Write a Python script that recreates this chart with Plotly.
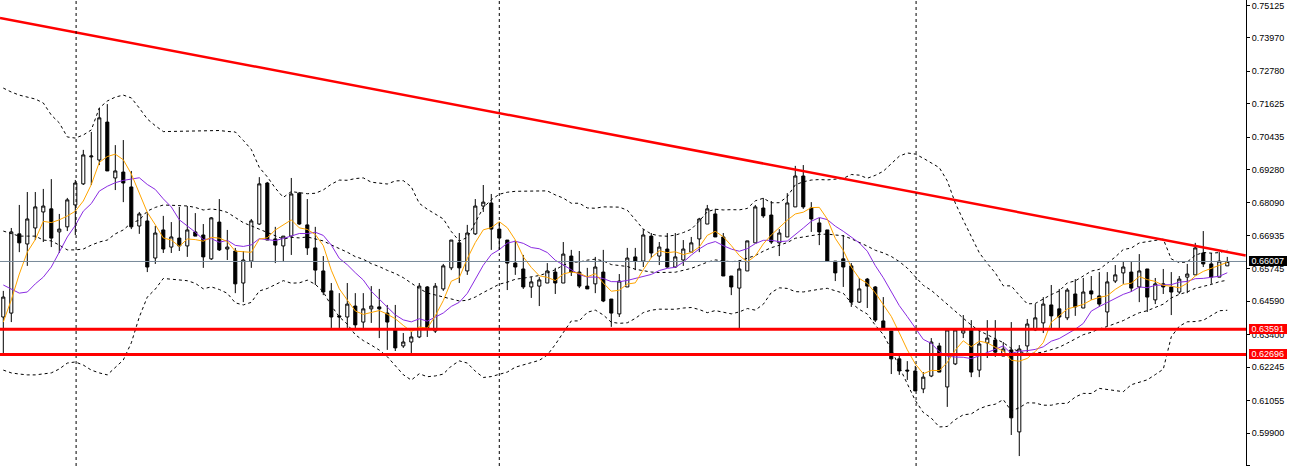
"""Weekly candles with Bollinger bands, two SMAs, a falling trend line and two support levels."""
import pandas as pd
import plotly.graph_objects as go

# ── weekly bars, oldest first (x = bar number) ────────────────────────────────
opens = [
    0.6403, 0.6417, 0.6699, 0.6663, 0.6720, 0.6777, 0.6788, 0.6706, 0.6724, 0.6802,
    0.6877, 0.6973, 0.6962, 0.7097, 0.6898, 0.6919, 0.6866, 0.6727, 0.6745, 0.6613,
    0.6713, 0.6652, 0.6684, 0.6656, 0.6706, 0.6695, 0.6610, 0.6741, 0.6645, 0.6638,
    0.6524, 0.6602, 0.6734, 0.6880, 0.6681, 0.6656, 0.6691, 0.6844, 0.6731, 0.6649,
    0.6567, 0.6496, 0.6407, 0.6403, 0.6442, 0.6385, 0.6432, 0.6439, 0.6417, 0.6360,
    0.6300, 0.6314, 0.6332, 0.6510, 0.6353, 0.6503, 0.6578, 0.6667, 0.6567, 0.6699,
    0.6798, 0.6809, 0.6716, 0.6677, 0.6595, 0.6574, 0.6510, 0.6513, 0.6524, 0.6563,
    0.6524, 0.6620, 0.6563, 0.6513, 0.6521, 0.6563, 0.6467, 0.6414, 0.6510, 0.6617,
    0.6602, 0.6691, 0.6620, 0.6645, 0.6581, 0.6606, 0.6634, 0.6681, 0.6734, 0.6770,
    0.6688, 0.6549, 0.6506, 0.6567, 0.6667, 0.6791, 0.6766, 0.6667, 0.6688, 0.6795,
    0.6905, 0.6791, 0.6738, 0.6713, 0.6602, 0.6610, 0.6585, 0.6456, 0.6538, 0.6510,
    0.6389, 0.6353, 0.6254, 0.6214, 0.6211, 0.6147, 0.6193, 0.6300, 0.6154, 0.6236,
    0.6346, 0.6360, 0.6214, 0.6311, 0.6321, 0.6264, 0.6286, 0.5994, 0.6300, 0.6357,
    0.6382, 0.6446, 0.6432, 0.6400, 0.6485, 0.6435, 0.6496, 0.6478, 0.6421, 0.6531,
    0.6560, 0.6563, 0.6510, 0.6574, 0.6464, 0.6521, 0.6510, 0.6492, 0.6545, 0.6553,
    0.6631, 0.6592, 0.6545, 0.6585,
]
highs = [
    0.6496, 0.6720, 0.6802, 0.6848, 0.6848, 0.6859, 0.6894, 0.6770, 0.6827, 0.6891,
    0.6998, 0.7062, 0.7147, 0.7161, 0.7015, 0.7033, 0.6923, 0.6777, 0.6777, 0.6727,
    0.6763, 0.6741, 0.6795, 0.6798, 0.6773, 0.6734, 0.6759, 0.6823, 0.6713, 0.6649,
    0.6638, 0.6752, 0.6901, 0.6884, 0.6724, 0.6691, 0.6898, 0.6848, 0.6823, 0.6724,
    0.6620, 0.6524, 0.6488, 0.6524, 0.6488, 0.6488, 0.6513, 0.6503, 0.6446, 0.6446,
    0.6346, 0.6350, 0.6524, 0.6513, 0.6524, 0.6592, 0.6677, 0.6702, 0.6731, 0.6823,
    0.6873, 0.6841, 0.6741, 0.6677, 0.6677, 0.6624, 0.6545, 0.6545, 0.6595, 0.6578,
    0.6670, 0.6642, 0.6638, 0.6578, 0.6617, 0.6642, 0.6467, 0.6556, 0.6649, 0.6649,
    0.6716, 0.6702, 0.6670, 0.6702, 0.6702, 0.6677, 0.6688, 0.6756, 0.6802, 0.6788,
    0.6702, 0.6549, 0.6606, 0.6674, 0.6802, 0.6827, 0.6816, 0.6716, 0.6844, 0.6941,
    0.6944, 0.6812, 0.6756, 0.6713, 0.6602, 0.6695, 0.6595, 0.6542, 0.6542, 0.6513,
    0.6474, 0.6353, 0.6264, 0.6246, 0.6229, 0.6207, 0.6328, 0.6311, 0.6357, 0.6357,
    0.6410, 0.6392, 0.6357, 0.6392, 0.6392, 0.6314, 0.6385, 0.6303, 0.6396, 0.6449,
    0.6474, 0.6517, 0.6503, 0.6506, 0.6538, 0.6542, 0.6549, 0.6563, 0.6563, 0.6588,
    0.6599, 0.6599, 0.6627, 0.6574, 0.6542, 0.6574, 0.6563, 0.6549, 0.6592, 0.6667,
    0.6709, 0.6631, 0.6634, 0.6617,
]
lows = [
    0.6275, 0.6385, 0.6634, 0.6585, 0.6677, 0.6670, 0.6652, 0.6631, 0.6709, 0.6695,
    0.6873, 0.6873, 0.6944, 0.6923, 0.6855, 0.6812, 0.6716, 0.6699, 0.6563, 0.6592,
    0.6631, 0.6631, 0.6638, 0.6617, 0.6691, 0.6578, 0.6606, 0.6638, 0.6606, 0.6488,
    0.6456, 0.6578, 0.6731, 0.6677, 0.6595, 0.6599, 0.6624, 0.6731, 0.6624, 0.6517,
    0.6481, 0.6364, 0.6364, 0.6364, 0.6364, 0.6364, 0.6382, 0.6328, 0.6286, 0.6282,
    0.6293, 0.6275, 0.6328, 0.6332, 0.6346, 0.6496, 0.6570, 0.6524, 0.6553, 0.6695,
    0.6777, 0.6642, 0.6642, 0.6499, 0.6553, 0.6503, 0.6471, 0.6442, 0.6524, 0.6485,
    0.6524, 0.6549, 0.6506, 0.6503, 0.6488, 0.6456, 0.6368, 0.6403, 0.6510, 0.6570,
    0.6581, 0.6613, 0.6588, 0.6578, 0.6578, 0.6585, 0.6634, 0.6634, 0.6734, 0.6688,
    0.6549, 0.6481, 0.6357, 0.6567, 0.6667, 0.6756, 0.6663, 0.6620, 0.6688, 0.6795,
    0.6788, 0.6706, 0.6659, 0.6602, 0.6531, 0.6510, 0.6439, 0.6453, 0.6435, 0.6385,
    0.6364, 0.6200, 0.6197, 0.6179, 0.6140, 0.6132, 0.6189, 0.6207, 0.6083, 0.6232,
    0.6328, 0.6189, 0.6189, 0.6257, 0.6261, 0.6264, 0.5983, 0.5908, 0.6278, 0.6353,
    0.6346, 0.6357, 0.6357, 0.6392, 0.6407, 0.6435, 0.6464, 0.6439, 0.6371, 0.6524,
    0.6521, 0.6492, 0.6456, 0.6421, 0.6449, 0.6485, 0.6410, 0.6485, 0.6488, 0.6553,
    0.6581, 0.6521, 0.6545, 0.6585,
]
closes = [
    0.6474, 0.6706, 0.6667, 0.6752, 0.6795, 0.6798, 0.6684, 0.6716, 0.6820, 0.6880,
    0.6980, 0.6976, 0.7112, 0.6923, 0.6923, 0.6880, 0.6724, 0.6770, 0.6581, 0.6702,
    0.6645, 0.6688, 0.6656, 0.6713, 0.6691, 0.6617, 0.6756, 0.6642, 0.6652, 0.6521,
    0.6606, 0.6745, 0.6877, 0.6677, 0.6659, 0.6691, 0.6841, 0.6734, 0.6649, 0.6570,
    0.6492, 0.6403, 0.6403, 0.6449, 0.6375, 0.6432, 0.6442, 0.6432, 0.6385, 0.6293,
    0.6314, 0.6332, 0.6513, 0.6364, 0.6513, 0.6585, 0.6677, 0.6578, 0.6702, 0.6798,
    0.6812, 0.6716, 0.6684, 0.6595, 0.6581, 0.6510, 0.6528, 0.6535, 0.6567, 0.6524,
    0.6627, 0.6563, 0.6513, 0.6503, 0.6581, 0.6460, 0.6417, 0.6531, 0.6613, 0.6602,
    0.6695, 0.6631, 0.6652, 0.6581, 0.6617, 0.6645, 0.6667, 0.6752, 0.6788, 0.6688,
    0.6549, 0.6510, 0.6574, 0.6674, 0.6795, 0.6763, 0.6670, 0.6702, 0.6809, 0.6905,
    0.6795, 0.6752, 0.6706, 0.6602, 0.6560, 0.6581, 0.6456, 0.6503, 0.6513, 0.6392,
    0.6364, 0.6254, 0.6211, 0.6211, 0.6140, 0.6189, 0.6314, 0.6207, 0.6357, 0.6357,
    0.6357, 0.6207, 0.6307, 0.6328, 0.6278, 0.6289, 0.6044, 0.6289, 0.6378, 0.6400,
    0.6449, 0.6407, 0.6403, 0.6499, 0.6439, 0.6492, 0.6485, 0.6449, 0.6528, 0.6553,
    0.6581, 0.6506, 0.6567, 0.6474, 0.6521, 0.6510, 0.6492, 0.6538, 0.6556, 0.6649,
    0.6592, 0.6545, 0.6602, 0.66007,
]

# indicator values on the first bars, which depend on history left of the window
sma5_head = [0.6385, 0.6464, 0.6556, 0.6634]
sma10_head = [0.6517, 0.6503, 0.6488, 0.6492, 0.6521, 0.6545, 0.6581, 0.6634, 0.6688]
bb_mid_head = [
    0.6709, 0.6699, 0.6691, 0.6691, 0.6691, 0.6677, 0.6674, 0.6659, 0.6642, 0.6642,
    0.6645, 0.6659, 0.6670, 0.6677, 0.6699, 0.6713, 0.6738, 0.6748, 0.6780,
]
bb_up_head = [
    0.7218, 0.7204, 0.7193, 0.7186, 0.7179, 0.7165, 0.7122, 0.7094, 0.7044, 0.7040,
    0.7051, 0.7069, 0.7147, 0.7172, 0.7186, 0.7193, 0.7183, 0.7147, 0.7108,
]
bb_low_head = [
    0.6214, 0.6204, 0.6200, 0.6197, 0.6197, 0.6200, 0.6204, 0.6218, 0.6239, 0.6243,
    0.6232, 0.6214, 0.6204, 0.6197, 0.6225, 0.6250, 0.6311, 0.6403, 0.6474,
]

bid_price = 0.66007
support_levels = [0.63591, 0.62696]
trend_bars = [-0.41, 155.3]
trend_prices = [0.7468, 0.6622]
year_breaks = [9.1, 62.0, 114.1]
tick_prices = [
    0.75125, 0.73970, 0.72780, 0.71625, 0.70435, 0.69280, 0.68090, 0.66935,
    0.65745, 0.64590, 0.63400, 0.62245, 0.61055, 0.59900, 0.58745,
]

# ── styling ──────────────────────────────────────────────────────────────────
_FONT = "Liberation Sans, Arial, sans-serif"
_DOT = "3px,3px"
_RED = "#ff0000"

bars = list(range(len(closes)))
close_s = pd.Series(closes)


def _with_head(series: pd.Series, head: list[float]) -> list[float]:
    out = series.tolist()
    out[: len(head)] = head
    return out


sma5 = _with_head(close_s.rolling(5).mean(), sma5_head)
sma10 = _with_head(close_s.rolling(10).mean(), sma10_head)
mid = close_s.rolling(20).mean()
sd = close_s.rolling(20).std(ddof=0)
bb_mid = _with_head(mid, bb_mid_head)
bb_up = _with_head(mid + 2 * sd, bb_up_head)
bb_low = _with_head(mid - 2 * sd, bb_low_head)

fig = go.Figure()

fig.add_trace(go.Candlestick(
    x=bars, open=opens, high=highs, low=lows, close=closes,
    increasing=dict(fillcolor="white", line=dict(color="black", width=1)),
    decreasing=dict(fillcolor="black", line=dict(color="black", width=1)),
    whiskerwidth=0,
    hoverinfo="skip",
))

for band in (bb_up, bb_mid, bb_low):
    fig.add_trace(go.Scatter(
        x=bars, y=band, mode="lines",
        line=dict(color="black", width=1, dash=_DOT),
        hoverinfo="skip",
    ))

fig.add_trace(go.Scatter(x=bars, y=sma10, mode="lines",
                         line=dict(color="#8a2be2", width=1), hoverinfo="skip"))
fig.add_trace(go.Scatter(x=bars, y=sma5, mode="lines",
                         line=dict(color="#ffa500", width=1), hoverinfo="skip"))

# year separators
for xb in year_breaks:
    fig.add_shape(type="line", xref="x", yref="paper", x0=xb, x1=xb, y0=0, y1=1,
                  line=dict(color="black", width=1, dash=_DOT))

# bid line and support levels
fig.add_shape(type="line", xref="paper", yref="y", x0=0, x1=1, y0=bid_price, y1=bid_price,
              line=dict(color="#778899", width=1))
for lvl in support_levels:
    fig.add_shape(type="line", xref="paper", yref="y", x0=0, x1=1, y0=lvl, y1=lvl,
                  line=dict(color=_RED, width=3))

# falling trend line
fig.add_trace(go.Scatter(x=trend_bars, y=trend_prices, mode="lines",
                         line=dict(color=_RED, width=2.5), hoverinfo="skip"))

# price tags on the right scale
for price, bg in [(bid_price, "black")] + [(lvl, _RED) for lvl in support_levels]:
    fig.add_annotation(
        x=1, xref="paper", y=price, yref="y",
        xanchor="left", yanchor="middle", xshift=3,
        text="\u00a0" + f"{price:.5f}" + "\u00a0",
        showarrow=False, bgcolor=bg, borderpad=0, borderwidth=0,
        font=dict(family=_FONT, size=9, color="white"),
    )

fig.update_layout(
    width=1293, height=466,
    margin=dict(l=0, r=47, t=0, b=0),
    paper_bgcolor="white", plot_bgcolor="white",
    showlegend=False,
    boxgap=0.45,
    xaxis=dict(range=[-0.4125, 155.34], visible=False, rangeslider=dict(visible=False)),
    yaxis=dict(
        range=[0.58726, 0.75316], side="right",
        tickvals=tick_prices, ticktext=[f"{p:.5f}" for p in tick_prices],
        ticks="outside", ticklen=3, tickcolor="black",
        showline=True, linecolor="black", linewidth=1,
        showgrid=False, zeroline=False,
        tickfont=dict(family=_FONT, size=9, color="black"),
    ),
)

# the page's default body margin would shift the chart by 8px
fig.write_html(
    "out.html",
    config={"displayModeBar": False},
    post_script="document.body.style.margin = '0';",
)
